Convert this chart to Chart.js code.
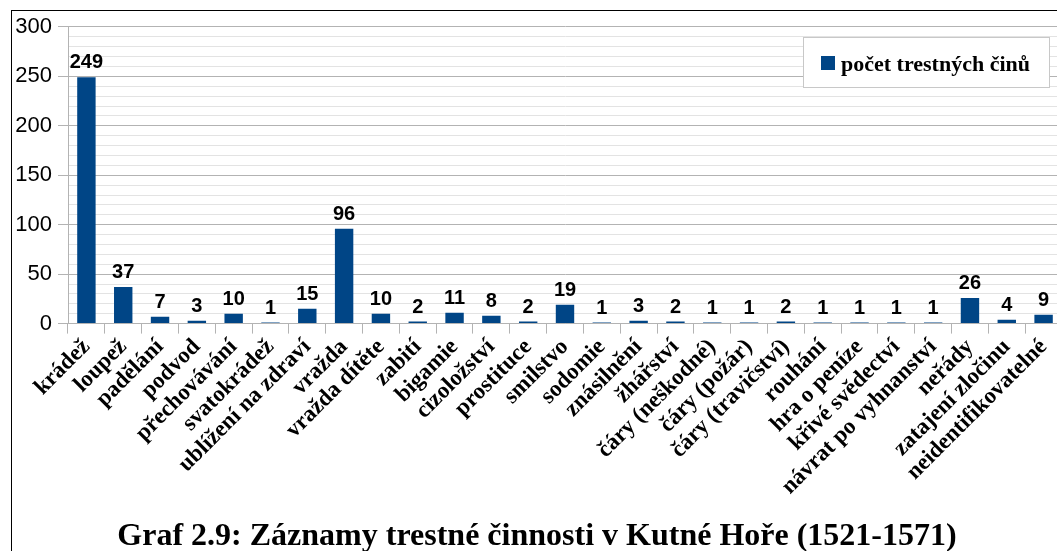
<!DOCTYPE html>
<html lang="cs">
<head>
<meta charset="UTF-8">
<script src="https://cdn.jsdelivr.net/npm/chart.js"></script>
<title>Graf 2.9</title>
<style>
  * { margin: 0; padding: 0; }
  body { width: 1057px; height: 551px; overflow: hidden; background: #fff; }
  .ramecek {
    position: absolute; left: 11px; top: 10px;
    width: 1055px; height: 545px;
    border-left: 1px solid #000; border-top: 1px solid #000;
  }
</style>
</head>
<body>
<div class="ramecek">
  <canvas id="graf" width="1055" height="545"></canvas>
</div>
<script>
const kategorie = ['krádež', 'loupež', 'padělání', 'podvod', 'přechovávání', 'svatokrádež',
  'ublížení na zdraví', 'vražda', 'vražda dítěte', 'zabití', 'bigamie', 'cizoložství',
  'prostituce', 'smilstvo', 'sodomie', 'znásilnění', 'žhářství', 'čáry (neškodné)',
  'čáry (požár)', 'čáry (travičství)', 'rouhání', 'hra o peníze', 'křivé svědectví',
  'návrat po vyhnanství', 'neřády', 'zatajení zločinu', 'neidentifikovatelné'];
const pocty = [249, 37, 7, 3, 10, 1, 15, 96, 10, 2, 11, 8, 2, 19, 1, 3, 2, 1, 1, 2, 1, 1, 1, 1, 26, 4, 9];
const nazevRady = 'počet trestných činů';
const titulek = 'Graf 2.9: Záznamy trestné činnosti v Kutné Hoře (1521-1571)';

const modra = '#004586';

// popisky hodnot nad sloupci
const popiskyHodnot = {
  id: 'popiskyHodnot',
  afterDatasetsDraw(chart) {
    const c = chart.ctx;
    c.save();
    c.font = 'bold 20px "Liberation Sans"';
    c.fillStyle = '#000';
    c.textAlign = 'center';
    c.textBaseline = 'alphabetic';
    chart.getDatasetMeta(0).data.forEach((bar, i) => {
      c.fillText(pocty[i], bar.x, bar.y - 9);
    });
    c.restore();
  }
};

// legenda v rámečku vpravo nahoře
const legenda = {
  id: 'legenda',
  afterDraw(chart) {
    const c = chart.ctx;
    c.save();
    c.fillStyle = '#fff';
    c.fillRect(791, 26, 246, 50);
    c.strokeStyle = '#c8c8c8';
    c.lineWidth = 1;
    c.strokeRect(791.5, 26.5, 246, 50);
    c.fillStyle = modra;
    c.fillRect(809, 45, 14, 14);
    c.fillStyle = '#000';
    c.font = 'bold 22px "Liberation Serif"';
    c.textBaseline = 'alphabetic';
    c.fillText(nazevRady, 829, 60);
    c.restore();
  }
};

new Chart(document.getElementById('graf'), {
  type: 'bar',
  data: {
    labels: kategorie,
    datasets: [{
      label: nazevRady,
      data: pocty,
      backgroundColor: modra,
      categoryPercentage: 1,
      barPercentage: 0.5
    }]
  },
  options: {
    responsive: false,
    animation: false,
    layout: { padding: { top: 0, right: 5, left: 0, bottom: 0 } },
    plugins: {
      legend: { display: false },
      tooltip: { enabled: false },
      title: {
        display: true,
        position: 'bottom',
        text: titulek,
        color: '#000',
        font: { family: 'Liberation Serif', size: 32, weight: 'bold' },
        padding: { top: 0, bottom: 0 }
      }
    },
    scales: {
      x: {
        afterFit(s) { s.height = 194; },
        grid: {
          offset: true,
          drawOnChartArea: false,
          drawTicks: true,
          tickLength: 10,
          color: '#b3b3b3'
        },
        border: { color: '#b3b3b3' },
        ticks: {
          autoSkip: false,
          maxRotation: 45,
          minRotation: 45,
          padding: 0,
          color: '#000',
          font: { family: 'Liberation Serif', size: 23, weight: 'bold' }
        }
      },
      y: {
        min: 0,
        max: 300,
        afterFit(s) { s.width = 56; },
        border: { color: '#b3b3b3' },
        grid: {
          tickLength: 10,
          color: ctx => ctx.tick.value % 50 === 0 ? '#b3b3b3' : '#e3e3e3',
          tickColor: ctx => ctx.tick.value % 50 === 0 ? '#b3b3b3' : 'rgba(0,0,0,0)'
        },
        ticks: {
          autoSkip: false,
          stepSize: 10,
          padding: 6,
          color: '#000',
          font: { family: 'Liberation Sans', size: 22, lineHeight: 0.9 },
          callback: v => v % 50 === 0 ? v : ''
        }
      }
    }
  },
  plugins: [popiskyHodnot, legenda]
});
</script>
</body>
</html>
